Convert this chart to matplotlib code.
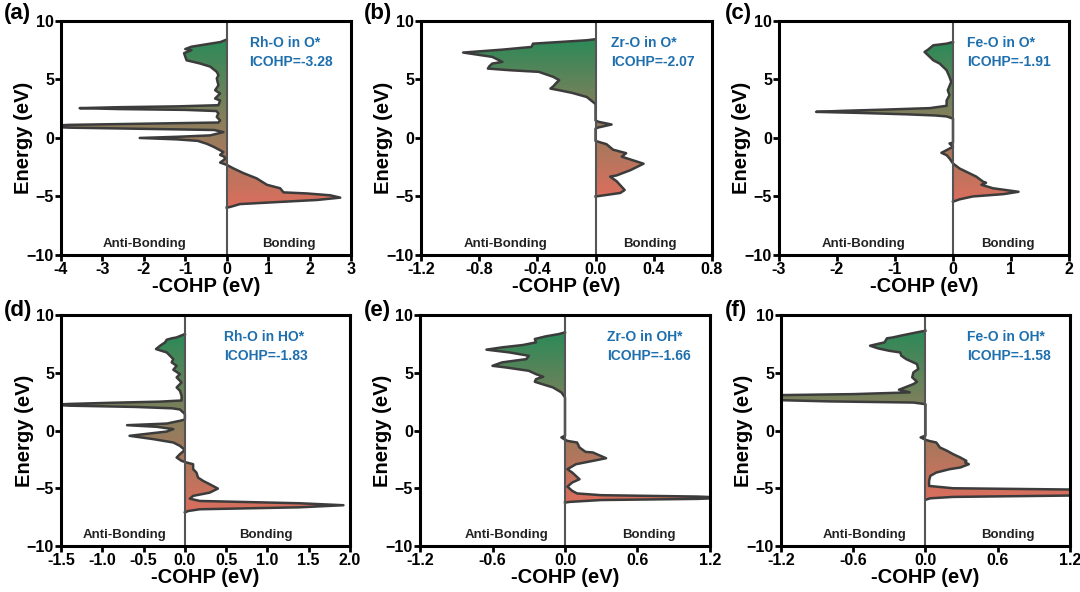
import matplotlib
matplotlib.use("Agg")
import matplotlib.pyplot as plt
import numpy as np
from matplotlib.colors import LinearSegmentedColormap

plt.rcParams['font.family'] = ['Liberation Sans', 'DejaVu Sans']
plt.rcParams['font.weight'] = 'bold'
plt.rcParams['axes.labelweight'] = 'bold'

# ---- data (energy in eV, -COHP in eV) ----
energy_a = [8.41, 8.2, 7.8, 7.6, 7.5, 7.25, 6.64, 6.37, 6.1, 5.65, 5.36, 5.08, 4.5, 4.08,
            3.8, 3.37, 3.2, 2.8, 2.7, 2.63, 2.55, 2.47, 2.4, 2.3, 2.1, 1.8, 1.5, 1.32, 1.22,
            1.12, 1.0, 0.88, 0.78, 0.68, 0.5, 0.22, 0.1, 0.0, -0.12, -0.25, -0.5, -0.75, -1.2,
            -1.45, -1.6, -1.8, -2.1, -2.3, -2.6, -3.0, -3.45, -4.0, -4.3, -4.65, -4.74, -4.9,
            -5.1, -5.3, -5.45, -5.65, -5.9, -5.95]
cohp_a = [0.0, -0.15, -0.85, -1.0, -0.85, -1.03, -0.97, -0.65, -0.4, -0.24, -0.2, -0.24,
          -0.2, -0.28, -0.16, -0.28, -0.16, -0.2, -1.2, -2.6, -3.55, -2.6, -1.0, -0.25, -0.2,
          -0.24, -0.16, -0.2, -2.0, -3.8, -4.5, -3.8, -2.0, -0.3, -0.08, -0.4, -1.2, -2.1,
          -1.2, -0.7, -0.48, -0.32, -0.08, -0.16, -0.06, -0.04, -0.16, 0.0, 0.16, 0.4, 0.72,
          0.97, 1.29, 1.37, 1.93, 2.5, 2.74, 2.18, 1.37, 0.32, 0.08, 0.0]

energy_b = [8.44, 8.35, 8.2, 8.06, 7.78, 7.55, 7.3, 6.93, 6.5, 6.36, 6.13, 5.93, 5.79,
            5.65, 5.22, 4.94, 4.7, 4.42, 4.22, 4.08, 3.85, 3.5, 3.1, 2.9, 1.5, 1.38, 1.15,
            0.9, 0.8, -0.25, -0.33, -0.53, -1.0, -1.3, -1.6, -2.0, -2.2, -2.75, -3.2, -3.3,
            -3.7, -4.45, -4.7, -4.95, -5.0]
cohp_b = [0.0, -0.06, -0.25, -0.43, -0.44, -0.64, -0.91, -0.71, -0.64, -0.71, -0.73,
          -0.74, -0.59, -0.39, -0.29, -0.25, -0.27, -0.29, -0.31, -0.25, -0.16, -0.06,
          -0.02, 0.0, 0.0, 0.02, 0.11, 0.02, 0.0, 0.0, 0.02, 0.075, 0.12, 0.21, 0.18, 0.28,
          0.33, 0.24, 0.145, 0.1, 0.145, 0.2, 0.17, 0.03, 0.0]

energy_c = [8.2, 8.06, 7.92, 7.55, 7.35, 7.07, 6.64, 6.36, 5.79, 5.22, 4.8, 4.08, 3.66,
            3.2, 2.75, 2.55, 2.42, 2.32, 2.23, 2.14, 2.02, 1.92, 1.84, 1.66, -0.4, -0.47,
            -0.75, -1.04, -1.27, -1.47, -1.75, -2.18, -2.6, -2.89, -3.3, -3.74, -3.83, -4.0,
            -4.3, -4.6, -4.8, -5.0, -5.25, -5.45]
cohp_c = [0.0, -0.11, -0.34, -0.43, -0.49, -0.43, -0.34, -0.23, -0.11, -0.06, -0.03,
          -0.09, -0.06, -0.11, -0.11, -0.4, -1.2, -1.9, -2.36, -1.6, -0.8, -0.3, -0.11, 0.0,
          0.0, -0.06, 0.0, -0.11, -0.2, -0.11, -0.06, 0.0, 0.11, 0.23, 0.4, 0.52, 0.57,
          0.49, 0.69, 1.13, 0.87, 0.34, 0.11, 0.0]

energy_d = [8.35, 8.06, 7.98, 7.86, 7.63, 7.34, 7.05, 6.76, 6.47, 6.18, 5.9, 5.6, 5.26,
            4.88, 4.6, 4.16, 3.73, 3.44, 3.0, 2.6, 2.5, 2.4, 2.3, 2.23, 2.15, 2.04, 1.92,
            1.82, 1.56, 1.42, 0.95, 0.84, 0.6, 0.46, 0.32, 0.12, -0.09, -0.46, -0.75, -1.04,
            -1.33, -1.68, -2.05, -2.34, -2.63, -2.77, -2.92, -3.35, -3.64, -4.08, -4.36,
            -4.65, -5.03, -5.38, -5.66, -5.9, -6.1, -6.3, -6.47, -6.65, -6.82, -6.97, -7.1]
cohp_d = [0.0, -0.1, -0.16, -0.22, -0.24, -0.3, -0.35, -0.22, -0.18, -0.14, -0.16, -0.1,
          -0.14, -0.06, -0.1, -0.04, -0.1, -0.06, -0.04, -0.04, -0.3, -0.9, -1.4, -1.6,
          -1.4, -0.6, -0.15, -0.06, -0.02, 0.0, 0.0, -0.06, -0.22, -0.7, -0.34, -0.14,
          -0.22, -0.67, -0.38, -0.14, -0.06, 0.0, -0.06, -0.1, -0.04, 0.02, 0.1, 0.1, 0.14,
          0.16, 0.22, 0.3, 0.4, 0.3, 0.1, 0.06, 0.18, 1.39, 1.92, 1.39, 0.18, 0.04, 0.0]

energy_e = [8.5, 8.35, 8.15, 7.92, 7.63, 7.4, 7.2, 7.0, 6.76, 6.47, 6.18, 5.9, 5.6, 5.46,
            5.17, 4.88, 4.65, 4.45, 4.22, 4.02, 3.73, 3.3, 2.86, -0.45, -0.6, -0.8, -0.9,
            -1.04, -1.47, -1.85, -1.9, -2.4, -2.63, -2.92, -3.35, -3.64, -4.22, -4.5, -4.86,
            -5.23, -5.45, -5.6, -5.72, -5.82, -5.92, -6.02, -6.18, -6.24]
cohp_e = [0.0, -0.05, -0.16, -0.25, -0.24, -0.35, -0.52, -0.65, -0.46, -0.3, -0.32,
          -0.52, -0.6, -0.49, -0.3, -0.24, -0.18, -0.24, -0.25, -0.19, -0.1, -0.03, 0.0,
          0.0, -0.03, 0.0, 0.02, 0.1, 0.12, 0.17, 0.23, 0.34, 0.23, 0.09, 0.02, 0.06, 0.12,
          0.06, 0.02, 0.06, 0.1, 0.3, 1.1, 1.35, 1.1, 0.3, 0.04, 0.0]

energy_f = [8.64, 8.5, 8.2, 8.06, 7.98, 7.63, 7.34, 7.1, 6.9, 6.76, 6.47, 6.18, 5.75,
            5.32, 5.03, 4.6, 4.22, 4.02, 3.73, 3.53, 3.3, 3.15, 3.05, 2.85, 2.65, 2.52,
            2.42, 2.28, -0.45, -0.6, -0.8, -0.9, -1.04, -1.47, -1.76, -2.05, -2.34, -2.63,
            -2.77, -2.92, -3.2, -3.35, -3.64, -3.93, -4.36, -4.8, -5.0, -5.12, -5.37, -5.62,
            -5.75, -5.87, -6.0]
cohp_f = [0.0, -0.07, -0.21, -0.27, -0.32, -0.34, -0.46, -0.39, -0.3, -0.21, -0.2, -0.16,
          -0.07, -0.06, -0.1, -0.11, -0.07, -0.1, -0.17, -0.22, -0.13, -0.6, -1.3, -1.55,
          -1.3, -0.8, -0.1, 0.0, 0.0, -0.04, 0.0, 0.03, 0.09, 0.12, 0.18, 0.23, 0.29, 0.34,
          0.33, 0.36, 0.29, 0.2, 0.09, 0.04, 0.03, 0.03, 0.23, 1.3, 1.55, 1.3, 0.23, 0.04, 0.0]

panel_tags = ['(a)', '(b)', '(c)', '(d)', '(e)', '(f)']
bond_names = ['Rh-O in O*', 'Zr-O in O*', 'Fe-O in O*',
              'Rh-O in HO*', 'Zr-O in OH*', 'Fe-O in OH*']
icohp_values = ['-3.28', '-2.07', '-1.91', '-1.83', '-1.66', '-1.58']
x_ticks = [[-4, -3, -2, -1, 0, 1, 2, 3],
           [-1.2, -0.8, -0.4, 0.0, 0.4, 0.8],
           [-3, -2, -1, 0, 1, 2],
           [-1.5, -1.0, -0.5, 0.0, 0.5, 1.0, 1.5, 2.0],
           [-1.2, -0.6, 0.0, 0.6, 1.2],
           [-1.2, -0.6, 0.0, 0.6, 1.2]]
x_fmt = ['%d', '%.1f', '%d', '%.1f', '%.1f', '%.1f']
energies = [energy_a, energy_b, energy_c, energy_d, energy_e, energy_f]
cohps = [cohp_a, cohp_b, cohp_c, cohp_d, cohp_e, cohp_f]

# ---- layout / style ----
ax_rects = [[0.0565, 0.5693, 0.2685, 0.3953], [0.3898, 0.5693, 0.2694, 0.3953],
            [0.7213, 0.5693, 0.2685, 0.3953], [0.0565, 0.0777, 0.2676, 0.3902],
            [0.3889, 0.0777, 0.2685, 0.3902], [0.7231, 0.0777, 0.2676, 0.3902]]
note_x = [0.65, 0.653, 0.65, 0.564, 0.645, 0.644]
anti_x = [0.288, 0.289, 0.29, 0.22, 0.297, 0.289]
bond_x = [0.787, 0.787, 0.788, 0.71, 0.79, 0.785]
tag_y = [0.995, 0.995, 0.995, 0.493, 0.493, 0.493]
tag_x = [0.004, 0.337, 0.671, 0.004, 0.337, 0.671]

cmap = LinearSegmentedColormap.from_list('cohp', ['#dc6e5e', '#8c7e5c', '#2b8a58'])
line_col = '#3c3c3c'
blue = '#1e6fae'

fig = plt.figure(figsize=(10.8, 5.92), dpi=100)

for i in range(6):
    ax = fig.add_axes(ax_rects[i])
    e = np.array(energies[i])
    c = np.array(cohps[i])
    ticks = x_ticks[i]

    poly = ax.fill_betweenx(e, 0, c, color='none', lw=0)
    grad = np.linspace(0, 1, 256).reshape(-1, 1)
    im = ax.imshow(grad, extent=[ticks[0] - 1, ticks[-1] + 1, e.min(), e.max()],
                   origin='lower', aspect='auto', cmap=cmap, zorder=1)
    im.set_clip_path(poly.get_paths()[0], ax.transData)
    ax.plot(c, e, color=line_col, lw=1.8, zorder=3, solid_joinstyle='round')
    ax.axvline(0, color='#555555', lw=1.5, zorder=4)

    ax.set_xlim(ticks[0], ticks[-1])
    ax.set_ylim(-10, 10)
    ax.set_xticks(ticks)
    ax.set_xticklabels([x_fmt[i] % t for t in ticks])
    ax.set_yticks([-10, -5, 0, 5, 10])
    ax.tick_params(direction='out', length=4, width=2, labelsize=11.5, pad=1)
    for sp in ax.spines.values():
        sp.set_linewidth(2.2)
        sp.set_color('black')
        sp.set_zorder(5)
    ax.set_xlabel('-COHP (eV)', fontsize=14.5, labelpad=0)
    ax.set_ylabel('Energy (eV)', fontsize=14.5, va='center')
    ax.yaxis.set_label_coords(-0.128, 0.5)

    ax.text(note_x[i], 0.905, bond_names[i], transform=ax.transAxes, color=blue,
            fontsize=10, va='center', ha='left')
    ax.text(note_x[i], 0.823, 'ICOHP=' + icohp_values[i], transform=ax.transAxes,
            color=blue, fontsize=10, va='center', ha='left')
    ax.text(anti_x[i], 0.047, 'Anti-Bonding', transform=ax.transAxes, fontsize=9.5,
            ha='center', va='center', color='#222222')
    ax.text(bond_x[i], 0.047, 'Bonding', transform=ax.transAxes, fontsize=9.5,
            ha='center', va='center', color='#222222')

    fig.text(tag_x[i], tag_y[i], panel_tags[i], fontsize=16, va='top', ha='left')

fig.savefig('out.png', dpi=100)
